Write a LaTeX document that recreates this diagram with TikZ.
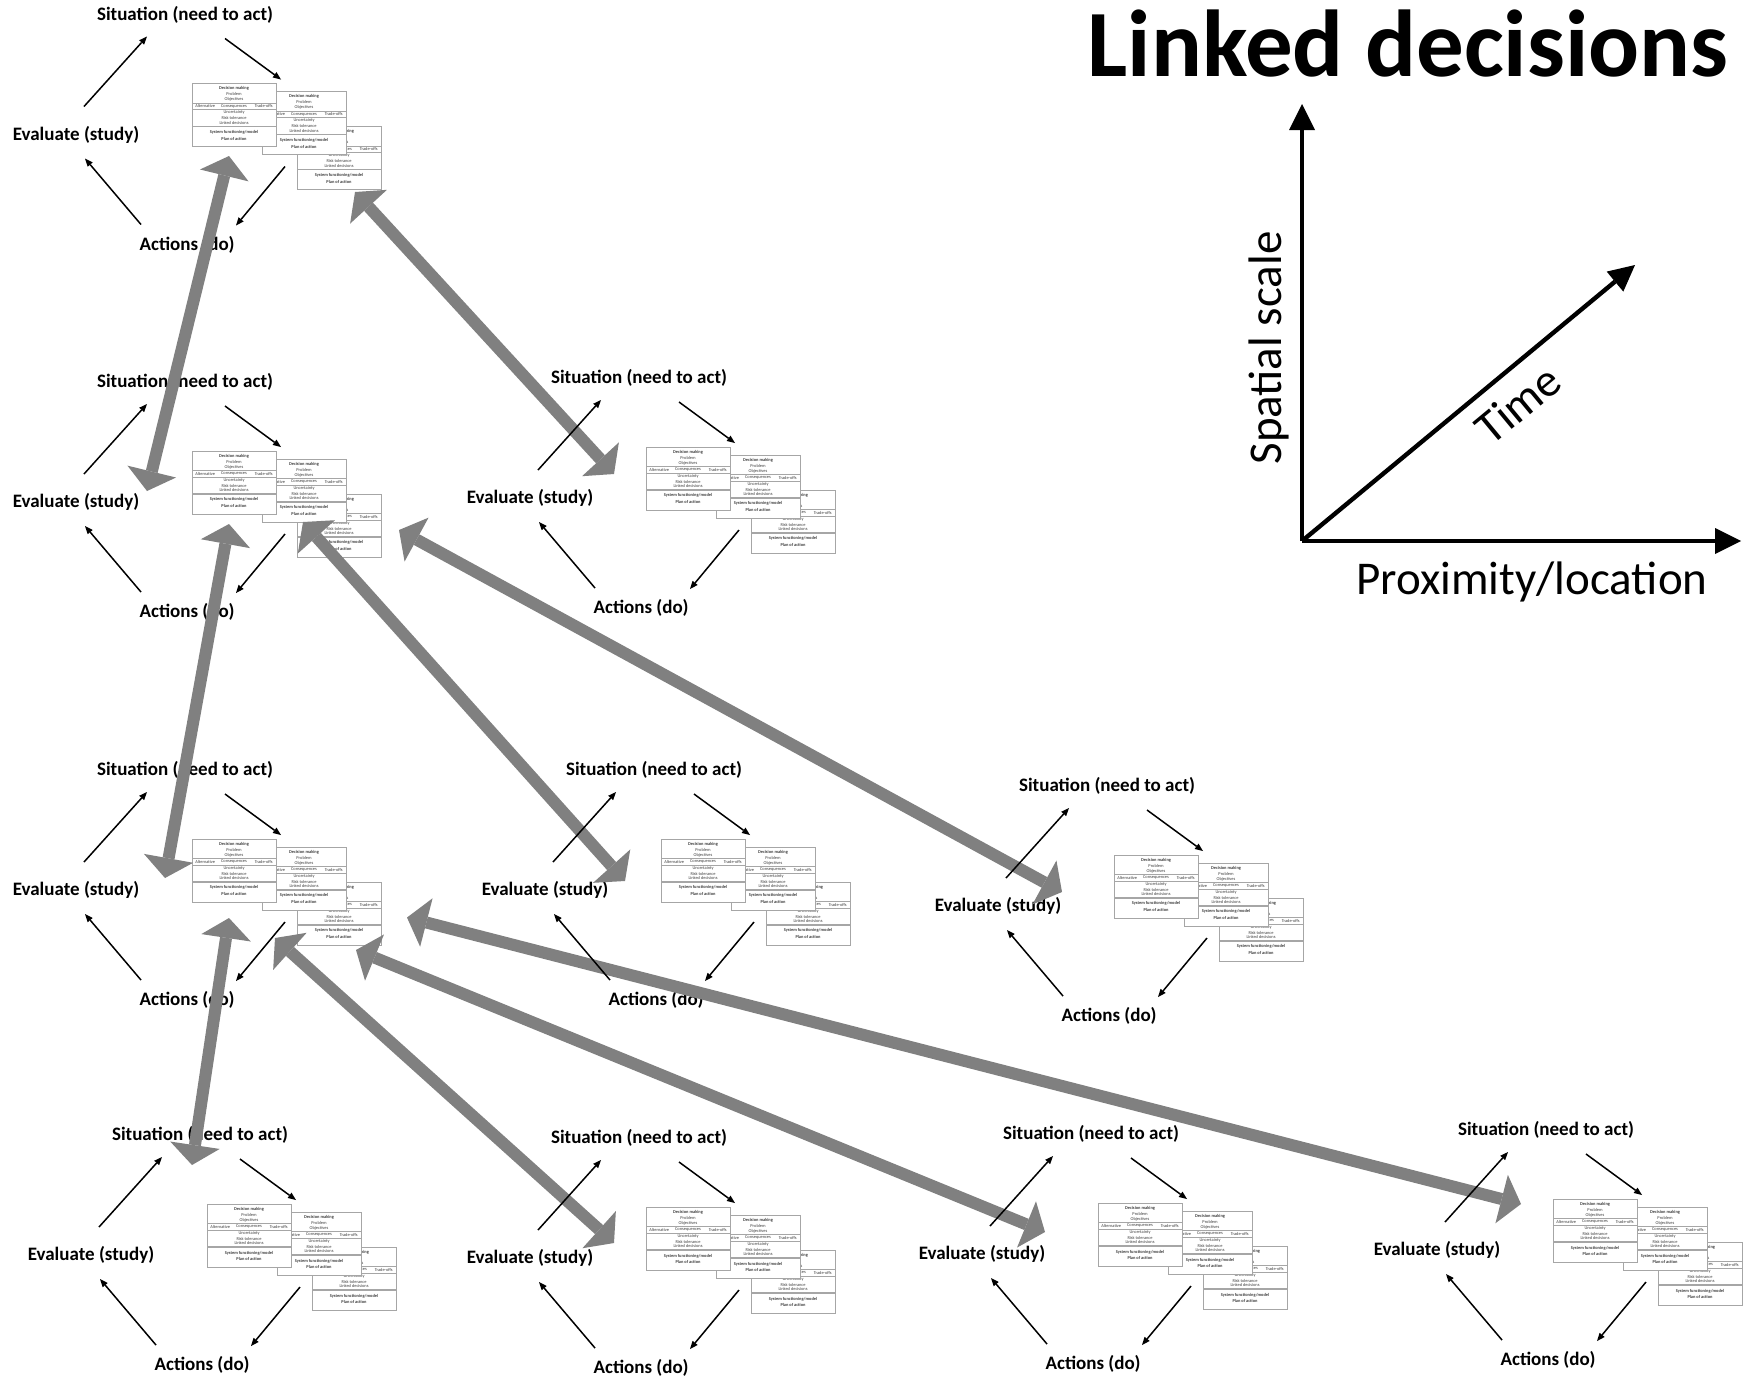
\documentclass[tikz,border=0pt]{standalone}
\usepackage{fontspec}
\setmainfont{Carlito}
\usetikzlibrary{arrows.meta,calc}
\definecolor{garrow}{HTML}{808080}
\definecolor{cline}{HTML}{A6A6A6}
\definecolor{ctext}{HTML}{404040}
\tikzset{
 lab/.style={font=\fontsize{9.5}{11}\selectfont\bfseries, inner sep=0pt},
 cardbox/.style={draw=cline, line width=0.4pt, fill=white, minimum width=42pt, minimum height=31.5pt, inner sep=0pt, outer sep=0pt, anchor=north west},
 ctxt/.style={font=\fontsize{2.2}{2.4}\selectfont, text=ctext, inner sep=0pt},
 cbold/.style={font=\fontsize{2.2}{2.4}\selectfont\bfseries, text=ctext, inner sep=0pt},
 csep/.style={draw=cline, line width=0.3pt},
 cyc/.style={draw=black, line width=0.75pt, -{Triangle[length=4pt,width=3.3pt,line width=0pt]}},
 link/.style={draw=garrow, line width=6pt, {Triangle[length=10pt,width=25pt,line width=0pt]}-{Triangle[length=10pt,width=25pt,line width=0pt]}},
 axis/.style={draw=black, line width=2.2pt, -{Triangle[length=13pt,width=13pt,line width=0pt]}},
}
\newcommand\mkcard[2]{%
 \node[cardbox] (#1) at #2 {};
 \node[cbold] (#1-t1) at ($(#1.north)+(0,5)$) {Decision making};
 \node[ctxt] (#1-t2) at ($(#1.north)+(0,10.5)$) {Problem};
 \node[ctxt] (#1-t3) at ($(#1.north)+(0,16.3)$) {Objectives};
 \draw[csep] ($(#1.north west)+(0,19.5)$) -- ($(#1.north east)+(0,19.5)$);
 \node[ctxt,anchor=west] (#1-t4) at ($(#1.north west)+(3,22.7)$) {Alternative};
 \node[ctxt] (#1-t5) at ($(#1.north)+(0,22.7)$) {Consequences};
 \node[ctxt,anchor=east] (#1-t6) at ($(#1.north east)+(-3,22.7)$) {Trade-offs};
 \draw[csep] ($(#1.north west)+(0,26)$) -- ($(#1.north east)+(0,26)$);
 \node[ctxt] (#1-t7) at ($(#1.north)+(0,29.3)$) {Uncertainty};
 \node[ctxt] (#1-t8) at ($(#1.north)+(0,34.5)$) {Risk tolerance};
 \node[ctxt] (#1-t9) at ($(#1.north)+(0,39.3)$) {Linked decisions};
 \draw[csep, line width=0.6pt] ($(#1.north west)+(0,43)$) -- ($(#1.north east)+(0,43)$);
 \node[cbold] (#1-t10) at ($(#1.north)+(0,48.8)$) {System functioning/model};
 \node[cbold] (#1-t11) at ($(#1.north)+(0,55.4)$) {Plan of action};
}
\newcommand\dunit[3]{%
 \node[lab] (#1-s) at (#2,#3) {Situation (need to act)};
 \node[lab] (#1-e) at ($(#1-s)+(-109,120)$) {Evaluate (study)};
 \node[lab] (#1-a) at ($(#1-s)+(2,230)$) {Actions (do)};
 \mkcard{#1-c3}{($(#1-s)+(112,112)$)}
 \mkcard{#1-c2}{($(#1-s)+(77,77)$)}
 \mkcard{#1-c1}{($(#1-s)+(7,69)$)}
}
\newcommand\dcycle[1]{%
 \draw[cyc] ($(#1-e)+(8,-28)$) -- ($(#1-s)+(-38,22)$);
 \draw[cyc] ($(#1-s)+(40,24)$) -- ($(#1-c1.north east)+(5,-4)$);
 \draw[cyc] ($(#1-c2.south)+(-19,12)$) -- ($(#1-a)+(49,-19)$);
 \draw[cyc] ($(#1-a)+(-46,-20)$) -- ($(#1-e)+(9,24)$);
}
\begin{document}
\begin{tikzpicture}[x=0.5pt,y=-0.5pt]
\useasboundingbox (0,0) rectangle (1748,1382);
\fill[white] (0,0) rectangle (1748,1382);
% title and axes
\node[font=\fontsize{47.5}{52}\selectfont\bfseries, inner sep=0pt] (title) at (1408,44) {Linked decisions};
\coordinate (O) at (1302,541);
\coordinate (vtip) at (1302,104);
\coordinate (htip) at (1741,541);
\coordinate (dtip) at (1635,265);
\draw[axis] (O) -- (vtip);
\draw[axis] (O) -- (htip);
\draw[axis] (O) -- (dtip);
\node[font=\fontsize{23.5}{28}\selectfont, rotate=90, inner sep=0pt] (spatial) at (1269,348) {Spatial scale};
\node[font=\fontsize{23.5}{28}\selectfont, rotate=39.6, inner sep=0pt] (time) at (1518,404) {Time};
\node[font=\fontsize{23.5}{28}\selectfont, inner sep=0pt] (prox) at (1532,582) {Proximity/location};
% decision cycles
\dunit{U1}{185}{14.5}
\dunit{U2}{185}{382}
\dunit{U3}{639}{378}
\dunit{U4}{185}{770}
\dunit{U5}{654}{770}
\dunit{U6}{1107}{786}
\dunit{U7}{200}{1135}
\dunit{U8}{639}{1138}
\dunit{U9}{1091}{1134}
\dunit{U10}{1546}{1130}
% links between decisions
\draw[link] ($(U2-e)+(71,-11)$) -- ($(U1-c1.south)+(-5,9.5)$);
\draw[link] ($(U3-e)+(84,-24)$) -- ($(U1-c3.south)+(16,2.5)$);
\draw[link] ($(U2-c1.south)+(-5,10)$) -- ($(U4-e)+(89,-12)$);
\draw[link] ($(U2-c3.west)+(6,-3.5)$) -- ($(U5-e)+(80,-9)$);
\draw[link] ($(U2-c3.east)+(18,4.5)$) -- ($(U6-e)+(64,-14)$);
\draw[link] ($(U4-c1.south)+(-5,16)$) -- ($(U7-s)+(-8,30)$);
\draw[link] ($(U4-c2.south west)+(13,28)$) -- ($(U8-e)+(84,-15)$);
\draw[link] ($(U4-c3.south)+(17,5)$) -- ($(U9-e)+(63,-22)$);
\draw[link] ($(U4-c3.east)+(26,4)$) -- ($(U10-e)+(84,-46)$);
% cycle arrows
\dcycle{U1}\dcycle{U2}\dcycle{U3}\dcycle{U4}\dcycle{U5}
\dcycle{U6}\dcycle{U7}\dcycle{U8}\dcycle{U9}\dcycle{U10}
\end{tikzpicture}
\end{document}
